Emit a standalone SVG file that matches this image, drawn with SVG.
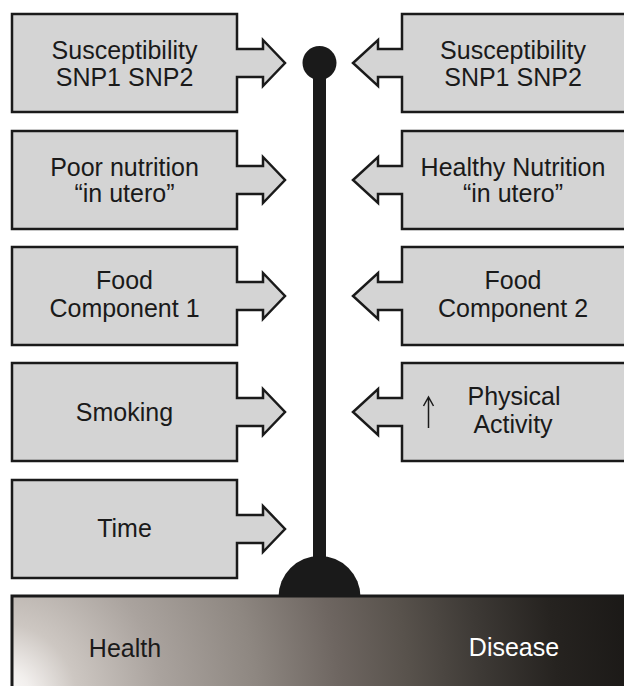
<svg xmlns="http://www.w3.org/2000/svg" width="624" height="686" viewBox="0 0 624 686">
<style>
.box{fill:#d4d4d4;stroke:#1a1a1a;stroke-width:2.5;stroke-linejoin:miter}
.t{font-family:"Liberation Sans",Arial,sans-serif;font-size:25px;fill:#1a1a1a;text-anchor:middle}
</style>
<defs>
<radialGradient id="g" gradientUnits="userSpaceOnUse" cx="0" cy="700" r="640" fx="0" fy="700">
<stop offset="0" stop-color="#ffffff"/>
<stop offset="0.05" stop-color="#f2efed"/>
<stop offset="0.12" stop-color="#cdc7c2"/>
<stop offset="0.25" stop-color="#aaa39e"/>
<stop offset="0.4" stop-color="#8e8781"/>
<stop offset="0.53" stop-color="#6e6661"/>
<stop offset="0.64" stop-color="#58524c"/>
<stop offset="0.75" stop-color="#3e3a36"/>
<stop offset="0.87" stop-color="#262320"/>
<stop offset="1" stop-color="#1a1816"/>
</radialGradient>
</defs>
<g id="connectors">
<rect x="313" y="63" width="13" height="535" fill="#1a1a1a"/>
<circle cx="319.5" cy="63" r="17" fill="#1a1a1a"/>
<path d="M278.5,597 A41,41 0 0 1 360.5,597 Z" fill="#1a1a1a"/>
</g>
<g id="scale">
<rect x="12" y="596" width="620" height="100" fill="url(#g)" stroke="#1a1a1a" stroke-width="3"/>
<text class="t" x="125" y="657">Health</text>
<text class="t" x="514" y="656" style="fill:#ffffff">Disease</text>
</g>
<g id="l1"><path class="box" d="M12,14 H237 V49 H263 V40 L285,63 L263,86 V77 H237 V112 H12 Z"/>
<text class="t" x="124.5" y="59">Susceptibility</text><text class="t" x="124.5" y="86">SNP1 SNP2</text></g>
<g id="l2"><path class="box" d="M12,131 H237 V166 H263 V157 L285,180 L263,203 V194 H237 V229 H12 Z"/>
<text class="t" x="124.5" y="176">Poor nutrition</text><text class="t" x="124.5" y="202">“in utero”</text></g>
<g id="l3"><path class="box" d="M12,247 H237 V282 H263 V273 L285,296 L263,319 V310 H237 V345 H12 Z"/>
<text class="t" x="124.5" y="289">Food</text><text class="t" x="124.5" y="317">Component 1</text></g>
<g id="l4"><path class="box" d="M12,363 H237 V398 H263 V389 L285,412 L263,435 V426 H237 V461 H12 Z"/>
<text class="t" x="124.5" y="421">Smoking</text></g>
<g id="l5"><path class="box" d="M12,480 H237 V515 H263 V506 L285,529 L263,552 V543 H237 V578 H12 Z"/>
<text class="t" x="124.5" y="537">Time</text></g>
<g id="r1"><path class="box" d="M632,14 H402 V49 H378 V40 L353,63 L378,86 V77 H402 V112 H632 Z"/>
<text class="t" x="513" y="59">Susceptibility</text><text class="t" x="513" y="86">SNP1 SNP2</text></g>
<g id="r2"><path class="box" d="M632,131 H402 V166 H378 V157 L353,180 L378,203 V194 H402 V229 H632 Z"/>
<text class="t" x="513" y="176">Healthy Nutrition</text><text class="t" x="513" y="202">“in utero”</text></g>
<g id="r3"><path class="box" d="M632,247 H402 V282 H378 V273 L353,296 L378,319 V310 H402 V345 H632 Z"/>
<text class="t" x="513" y="289">Food</text><text class="t" x="513" y="317">Component 2</text></g>
<g id="r4"><path class="box" d="M632,363 H402 V398 H378 V389 L353,412 L378,435 V426 H402 V461 H632 Z"/>
<path d="M428.5,428 V397 M423.5,406 L428.5,397 L433.5,406" fill="none" stroke="#1a1a1a" stroke-width="1.5"/>
<text class="t" x="514" y="405">Physical</text><text class="t" x="513" y="433">Activity</text></g>
</svg>
